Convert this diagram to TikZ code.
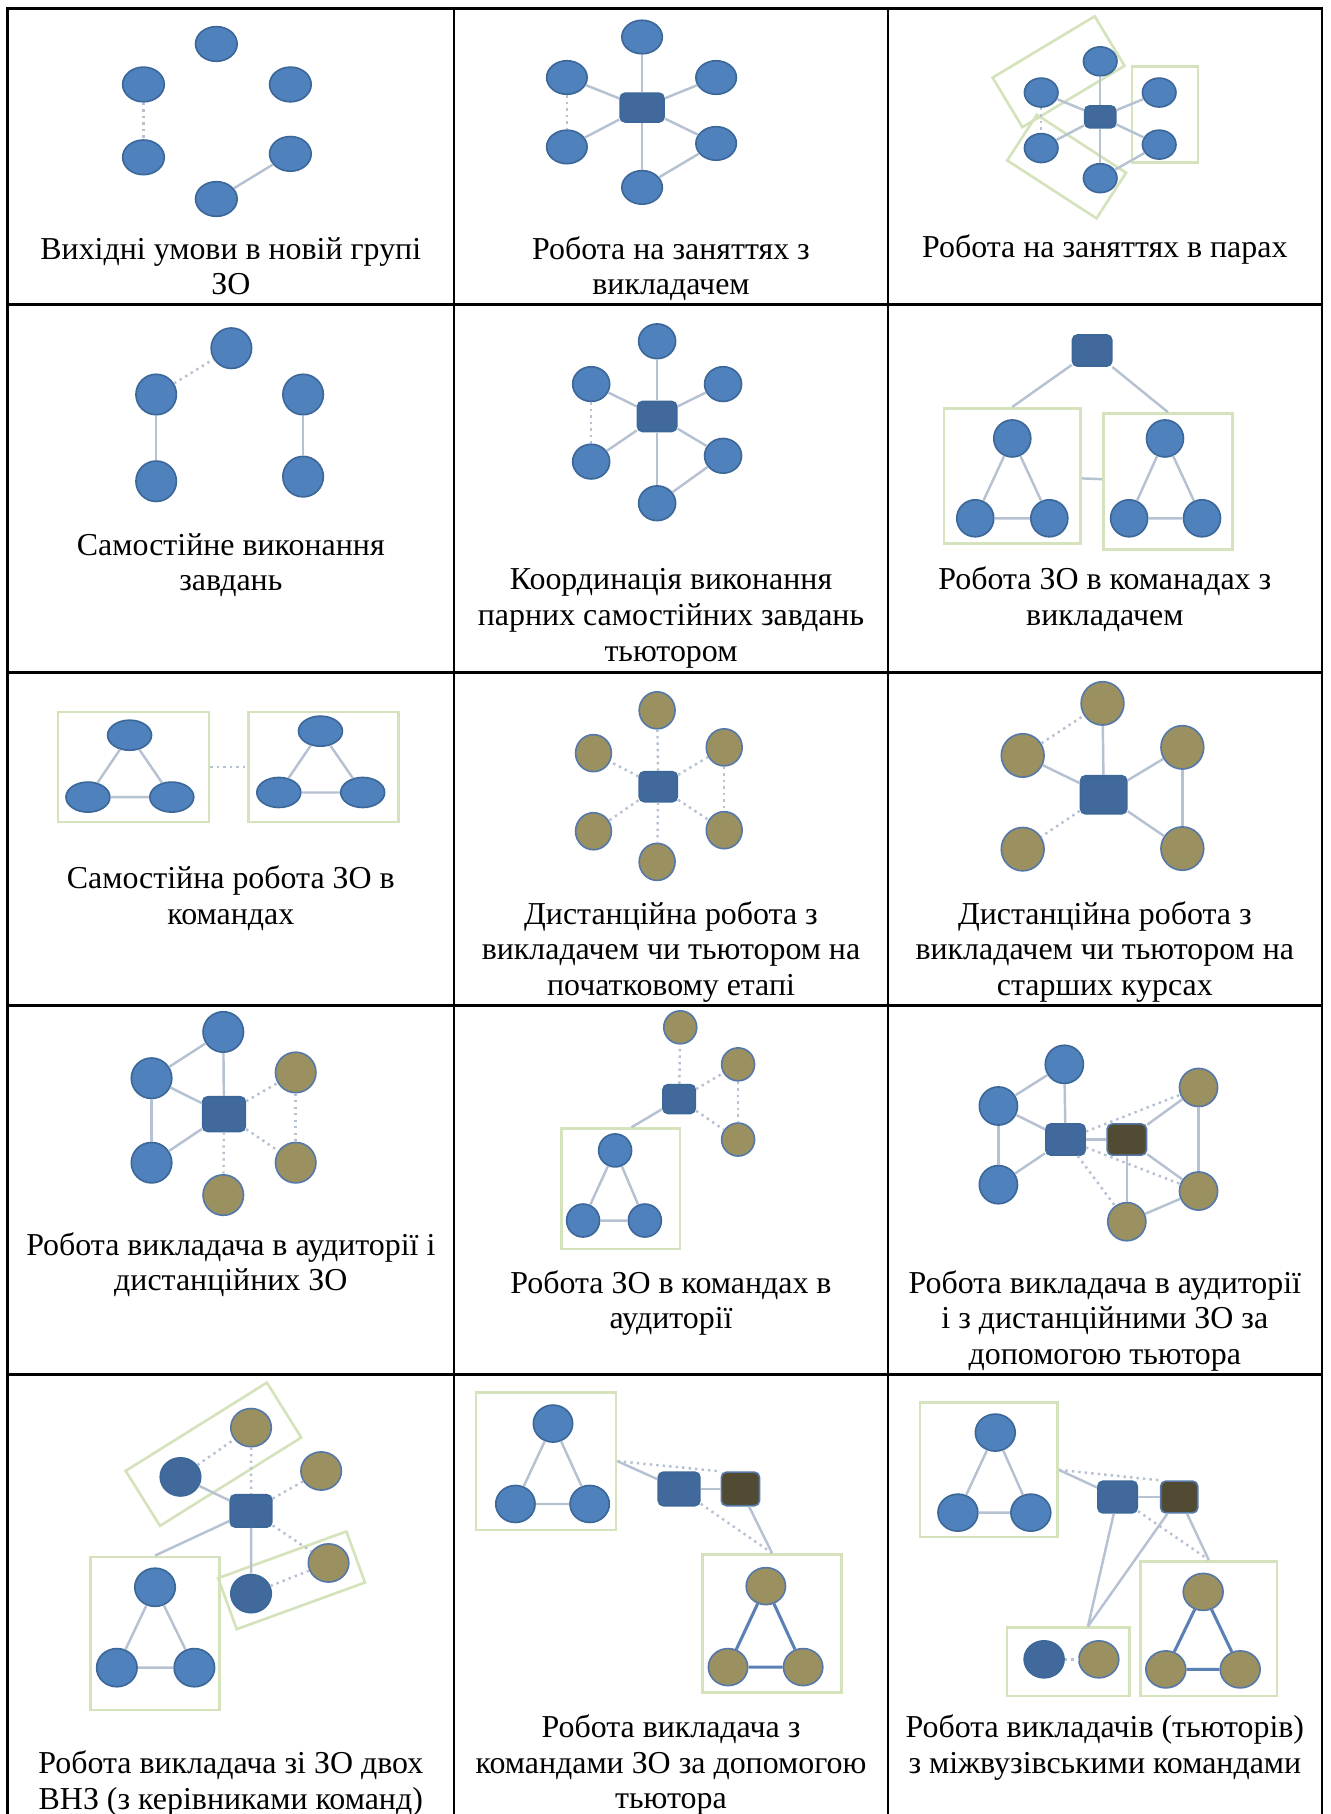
\documentclass[tikz,border=0pt]{standalone}
\usepackage{fontspec}
\setmainfont{Liberation Serif}
\usepackage{tikz}
\usetikzlibrary{shapes.geometric}

\definecolor{stublue}{HTML}{4F81BD}
\definecolor{stuline}{HTML}{3C6799}
\definecolor{leadblue}{HTML}{41699B}
\definecolor{remolive}{HTML}{9A9060}
\definecolor{remline}{HTML}{5678A8}
\definecolor{tutbrown}{HTML}{504B32}
\definecolor{teamgreen}{HTML}{D5E3BC}
\definecolor{lnkgrey}{HTML}{B6C1D2}
\definecolor{tlnkblue}{HTML}{5A80B5}
\newcommand{\capfont}{\fontsize{15.7pt}{17.5pt}\selectfont}

\tikzset{
  sz/.style={minimum width=0.7cm,minimum height=0.66cm},
  rz/.style={minimum width=0.72cm,minimum height=0.56cm},
  circ/.style={ellipse,inner sep=0pt,line width=0.8pt,sz},
  stu/.style={circ,fill=stublue,draw=stuline},
  rem/.style={circ,fill=remolive,draw=remline},
  lead/.style={circ,fill=leadblue,draw=stuline},
  rbox/.style={rectangle,rounded corners=2.5pt,inner sep=0pt,line width=0.8pt,rz},
  tchr/.style={rbox,fill=leadblue,draw=stuline},
  tutr/.style={rbox,fill=tutbrown,draw=remline},
  team/.style={rectangle,draw=teamgreen,line width=1.3pt,inner sep=0pt},
  lnk/.style={draw=lnkgrey,line width=1.2pt},
  weak/.style={lnk,dotted},
  tlnk/.style={draw=tlnkblue,line width=1.5pt},
  capt/.style={align=center,anchor=base,font=\capfont},
  tabline/.style={line width=1.4pt,line cap=rect}
}

\begin{document}
\begin{tikzpicture}[x=0.02cm,y=-0.02cm]
\fill[white] (0,0) rectangle (1150,1568);
\useasboundingbox (0,0) rectangle (1150,1568);

% table
\foreach \y in {7,263,581,869,1188}
  \draw[tabline] (6.6,\y) -- (1142.7,\y);
\foreach \x in {6.6,392.4,767.5,1142.7}
  \draw[tabline] (\x,7) -- (\x,1590);

% row 1
\begin{scope}[sz/.style={minimum width=0.72cm,minimum height=0.6cm}]
\node[stu] (a1) at (187,38) {};
\node[stu] (a2) at (124,73) {};
\node[stu] (a3) at (251,73) {};
\node[stu] (a4) at (124,136) {};
\node[stu] (a5) at (251,133) {};
\node[stu] (a6) at (187,172) {};
\draw[weak] (a2) -- (a4);
\draw[lnk] (a6) -- (a5);
\end{scope}
\node[capt] (la) at (199.5,254.7) {Вихідні умови в новій групі\\ЗО};

\begin{scope}[sz/.style={minimum width=0.7cm,minimum height=0.58cm},
  rz/.style={minimum width=0.76cm,minimum height=0.5cm}]
\node[tchr] (b0) at (555,93) {};
\node[stu] (b1) at (555,32) {};
\node[stu] (b2) at (490,67) {};
\node[stu] (b3) at (619,67) {};
\node[stu] (b4) at (490,127) {};
\node[stu] (b5) at (619,124) {};
\node[stu] (b6) at (555,162) {};
\foreach \n in {1,...,6}
  \draw[lnk] (b0) -- (b\n);
\draw[lnk] (b6) -- (b5);
\draw[weak] (b2) -- (b4);
\end{scope}
\node[capt] (lb) at (580,254.7) {Робота на заняттях з\\викладачем};

\begin{scope}[sz/.style={minimum width=0.58cm,minimum height=0.5cm},
  rz/.style={minimum width=0.54cm,minimum height=0.38cm}]
\node[team,rotate=31,minimum width=2.06cm,minimum height=1cm] (cb1) at (915,62) {};
\node[team,rotate=-33,minimum width=1.84cm,minimum height=0.94cm] (cb2) at (922,144) {};
\node[team,minimum width=1.14cm,minimum height=1.66cm] (cb3) at (1007,99) {};
\node[tchr] (c0) at (951,101) {};
\node[stu] (c1) at (951,53) {};
\node[stu] (c2) at (900,80) {};
\node[stu] (c3) at (1002,80) {};
\node[stu] (c4) at (900,128) {};
\node[stu] (c5) at (1002,125) {};
\node[stu] (c6) at (951,154) {};
\foreach \n in {1,...,6}
  \draw[lnk] (c0) -- (c\n);
\draw[lnk] (c6) -- (c5);
\draw[weak] (c2) -- (c4);
\end{scope}
\node[capt] (lc) at (955,223) {Робота на заняттях в парах};

% row 2
\begin{scope}[sz/.style={minimum width=0.7cm,minimum height=0.7cm}]
\node[stu] (d1) at (200,301) {};
\node[stu] (d2) at (135,341) {};
\node[stu] (d3) at (262,341) {};
\node[stu] (d4) at (135,416) {};
\node[stu] (d5) at (262,412) {};
\draw[weak] (d2) -- (d1);
\draw[lnk] (d2) -- (d4);
\draw[lnk] (d3) -- (d5);
\end{scope}
\node[capt] (ld) at (199.5,510.7) {Самостійне виконання\\завдань};

\begin{scope}[sz/.style={minimum width=0.64cm,minimum height=0.6cm},
  rz/.style={minimum width=0.68cm,minimum height=0.52cm}]
\node[tchr] (e0) at (568,360) {};
\node[stu] (e1) at (568,295) {};
\node[stu] (e2) at (511,332) {};
\node[stu] (e3) at (625,332) {};
\node[stu] (e4) at (511,399) {};
\node[stu] (e5) at (625,394) {};
\node[stu] (e6) at (568,435) {};
\foreach \n in {1,...,6}
  \draw[lnk] (e0) -- (e\n);
\draw[lnk] (e6) -- (e5);
\draw[weak] (e2) -- (e4);
\end{scope}
\node[capt] (le) at (580,571.4) {Координація виконання\\парних самостійних завдань\\тьютором};

\begin{scope}[sz/.style={minimum width=0.64cm,minimum height=0.64cm},
  rz/.style={minimum width=0.68cm,minimum height=0.54cm}]
\node[team,minimum width=2.36cm,minimum height=2.34cm] (fl) at (875,411.4) {};
\node[team,minimum width=2.23cm,minimum height=2.35cm] (fr) at (1009.6,416.2) {};
\node[tchr] (f0) at (944,303) {};
\node[stu] (f1) at (875,379) {};
\node[stu] (f2) at (843,448) {};
\node[stu] (f3) at (907,448) {};
\node[stu] (f4) at (1007,379) {};
\node[stu] (f5) at (976,448) {};
\node[stu] (f6) at (1039,448) {};
\draw[lnk] (f0) -- (fl.north);
\draw[lnk] (f0) -- (fr.north);
\draw[lnk] (f1) -- (f2) -- (f3) -- (f1);
\draw[lnk] (f4) -- (f5) -- (f6) -- (f4);
\draw[lnk] (fl) -- (fr);
\end{scope}
\node[capt] (lf) at (955,540.7) {Робота ЗО в команадах з\\викладачем};

% row 3
\begin{scope}[sz/.style={minimum width=0.76cm,minimum height=0.52cm}]
\node[team,minimum width=2.61cm,minimum height=1.9cm] (gl) at (115.5,663) {};
\node[team,minimum width=2.6cm,minimum height=1.9cm] (gr) at (279.6,663) {};
\node[stu] (g1) at (112,635.5) {};
\node[stu] (g2) at (76,689) {};
\node[stu] (g3) at (148.5,689) {};
\node[stu] (g4) at (277,632) {};
\node[stu] (g5) at (241,685) {};
\node[stu] (g6) at (313.5,685) {};
\draw[lnk] (g1) -- (g2) -- (g3) -- (g1);
\draw[lnk] (g4) -- (g5) -- (g6) -- (g4);
\draw[weak] (gl) -- (gr);
\end{scope}
\node[capt] (lg) at (199.5,798.7) {Самостійна робота ЗО в\\командах};

\begin{scope}[sz/.style={minimum width=0.62cm,minimum height=0.64cm},
  rz/.style={minimum width=0.66cm,minimum height=0.52cm}]
\node[tchr] (h0) at (569,680) {};
\node[rem] (h1) at (568,614) {};
\node[rem] (h2) at (513,651) {};
\node[rem] (h3) at (626,646) {};
\node[rem] (h4) at (513,718.5) {};
\node[rem] (h5) at (626,717.6) {};
\node[rem] (h6) at (568,745) {};
\foreach \n in {1,...,6}
  \draw[weak] (h0) -- (h\n);
\draw[weak] (h3) -- (h5);
\end{scope}
\node[capt] (lh) at (580,860.4) {Дистанційна робота з\\викладачем чи тьютором на\\початковому етапі};

\begin{scope}[sz/.style={minimum width=0.74cm,minimum height=0.75cm},
  rz/.style={minimum width=0.8cm,minimum height=0.66cm}]
\node[tchr] (i0) at (954,687) {};
\node[rem] (i1) at (953,608) {};
\node[rem] (i2) at (884,653) {};
\node[rem] (i3) at (1022,646) {};
\node[rem] (i4) at (884,734) {};
\node[rem] (i5) at (1022,733.5) {};
\foreach \n in {1,2,3,5}
  \draw[lnk] (i0) -- (i\n);
\draw[lnk] (i3) -- (i5);
\draw[weak] (i2) -- (i1);
\draw[weak] (i0) -- (i4);
\end{scope}
\node[capt] (li) at (955,860.4) {Дистанційна робота з\\викладачем чи тьютором на\\старших курсах};

% row 4
\begin{scope}[sz/.style={minimum width=0.7cm,minimum height=0.7cm},
  rz/.style={minimum width=0.74cm,minimum height=0.6cm}]
\node[tchr] (j0) at (193.6,963) {};
\node[stu] (j1) at (193,892) {};
\node[stu] (j2) at (131,932) {};
\node[stu] (j3) at (131,1005) {};
\node[rem] (j4) at (255.6,927) {};
\node[rem] (j5) at (255.6,1005) {};
\node[rem] (j6) at (193,1033) {};
\draw[lnk] (j2) -- (j1);
\draw[lnk] (j2) -- (j3);
\foreach \n in {1,2,3}
  \draw[lnk] (j0) -- (j\n);
\foreach \n in {4,5,6}
  \draw[weak] (j0) -- (j\n);
\draw[weak] (j4) -- (j5);
\end{scope}
\node[capt] (lj) at (199.5,1115.7) {Робота викладача в аудиторії і\\дистанційних ЗО};

\begin{scope}[sz/.style={minimum width=0.57cm,minimum height=0.57cm},
  rz/.style={minimum width=0.56cm,minimum height=0.5cm}]
\node[team,minimum width=2.05cm,minimum height=2.08cm] (kb) at (536.5,1027.5) {};
\node[tchr] (k0) at (587,950) {};
\node[rem] (k1) at (588,888) {};
\node[rem] (k2) at (638,920) {};
\node[rem] (k3) at (638,985) {};
\node[stu] (k4) at (531.7,994.4) {};
\node[stu] (k5) at (504,1055) {};
\node[stu] (k6) at (557.4,1055) {};
\foreach \n in {1,2,3}
  \draw[weak] (k0) -- (k\n);
\draw[weak] (k2) -- (k3);
\draw[lnk] (k0) -- (kb.80);
\draw[lnk] (k4) -- (k5) -- (k6) -- (k4);
\end{scope}
\node[capt] (lk) at (580,1148.7) {Робота ЗО в командах в\\аудиторії};

\begin{scope}[sz/.style={minimum width=0.66cm,minimum height=0.66cm},
  rz/.style={minimum width=0.68cm,minimum height=0.54cm}]
\node[tchr] (l0) at (921,985) {};
\node[tutr] (lt) at (974,985) {};
\node[stu] (l1) at (920,920) {};
\node[stu] (l2) at (863,956) {};
\node[stu] (l3) at (863,1024) {};
\node[rem] (l4) at (1036,940) {};
\node[rem] (l5) at (1036,1029.5) {};
\node[rem] (l6) at (974,1056) {};
\draw[lnk] (l2) -- (l1);
\draw[lnk] (l2) -- (l3);
\foreach \n in {1,2,3}
  \draw[lnk] (l0) -- (l\n);
\draw[lnk] (l0) -- (lt);
\foreach \n in {4,5,6}
  \draw[lnk] (lt) -- (l\n);
\draw[lnk] (l4) -- (l5);
\draw[lnk] (l6) -- (l5);
\foreach \n in {4,5,6}
  \draw[weak] (l0) -- (l\n);
\end{scope}
\node[capt] (ll) at (955,1179.4) {Робота викладача в аудиторії\\і з дистанційними ЗО за\\допомогою тьютора};

% row 5
\begin{scope}[sz/.style={minimum width=0.7cm,minimum height=0.66cm},
  rz/.style={minimum width=0.72cm,minimum height=0.56cm}]
\node[team,rotate=32,minimum width=2.88cm,minimum height=1.12cm] (ma) at (184.5,1257) {};
\node[team,rotate=20,minimum width=2.36cm,minimum height=0.94cm] (mb) at (252,1366) {};
\node[team,minimum width=2.24cm,minimum height=2.65cm] (mc) at (134,1412) {};
\node[tchr] (m0) at (217,1306) {};
\node[lead] (m1) at (156,1276.6) {};
\node[rem] (m2) at (217,1234) {};
\node[rem] (m3) at (277.6,1271.5) {};
\node[lead] (m4) at (217,1377.5) {};
\node[rem] (m5) at (284,1351) {};
\node[stu] (m6) at (134,1372) {};
\node[stu] (m7) at (101,1441.5) {};
\node[stu] (m8) at (168,1441.5) {};
\draw[weak] (m1) -- (m2) -- (m0);
\draw[weak] (m0) -- (m3);
\draw[weak] (m0) -- (m5);
\draw[weak] (m4) -- (m5);
\draw[lnk] (m1) -- (m0) -- (m4);
\draw[lnk] (m0) -- (mc.north);
\draw[lnk] (m6) -- (m7) -- (m8) -- (m6);
\end{scope}
\node[capt] (lm) at (199.5,1563.7) {Робота викладача зі ЗО двох\\ВНЗ (з керівниками команд)};

\begin{scope}[sz/.style={minimum width=0.68cm,minimum height=0.64cm},
  rz/.style={minimum width=0.72cm,minimum height=0.58cm}]
\node[team,minimum width=2.42cm,minimum height=2.38cm] (nb1) at (472,1263) {};
\node[team,minimum width=2.4cm,minimum height=2.39cm] (nb2) at (667.3,1403.3) {};
\node[tchr] (n0) at (587,1287) {};
\node[tutr,minimum width=0.66cm] (nt) at (640,1287) {};
\node[stu] (n1) at (478,1230.5) {};
\node[stu] (n2) at (445.5,1300) {};
\node[stu] (n3) at (509.7,1300) {};
\node[rem] (n4) at (662,1371) {};
\node[rem] (n5) at (629.3,1441) {};
\node[rem] (n6) at (694.2,1441) {};
\draw[lnk] (nb1.east) -- (n0);
\draw[weak] (nb1.east) -- (nt.north west);
\draw[lnk] (n0) -- (nt);
\draw[lnk] (nt) -- (nb2.north);
\draw[weak] (n0) -- (nb2.north);
\draw[lnk] (n1) -- (n2) -- (n3) -- (n1);
\draw[tlnk] (n4) -- (n5) -- (n6) -- (n4);
\end{scope}
\node[capt] (ln) at (580,1563.4) {Робота викладача з\\командами ЗО за допомогою\\тьютора};

\begin{scope}[sz/.style={minimum width=0.69cm,minimum height=0.64cm},
  rz/.style={minimum width=0.68cm,minimum height=0.55cm}]
\node[team,minimum width=2.38cm,minimum height=2.32cm] (ob1) at (854.6,1270.5) {};
\node[team,minimum width=2.12cm,minimum height=1.18cm] (ob2) at (923.4,1436.5) {};
\node[team,minimum width=2.36cm,minimum height=2.33cm] (ob3) at (1044.8,1407.7) {};
\node[tchr] (o0) at (966,1294) {};
\node[tutr,minimum width=0.64cm] (ot) at (1019.3,1294) {};
\node[stu] (o1) at (860.3,1238.3) {};
\node[stu] (o2) at (828,1307.5) {};
\node[stu] (o3) at (891,1307.5) {};
\node[lead] (o4) at (902.5,1434.3) {};
\node[rem] (o5) at (949.8,1434.3) {};
\node[rem] (o6) at (1040,1376) {};
\node[rem] (o7) at (1007.7,1443) {};
\node[rem] (o8) at (1072,1443) {};
\draw[lnk] (ob1.east) -- (o0);
\draw[weak] (ob1.east) -- (ot.north west);
\draw[lnk] (o0) -- (ot);
\draw[lnk] (o0) -- (ob2.61);
\draw[lnk] (ot) -- (ob2.61);
\draw[lnk] (ot) -- (ob3.north);
\draw[weak] (o0) -- (ob3.north);
\draw[weak] (o4) -- (o5);
\draw[lnk] (o1) -- (o2) -- (o3) -- (o1);
\draw[tlnk] (o6) -- (o7) -- (o8) -- (o6);
\end{scope}
\node[capt] (lo) at (955,1532.7) {Робота викладачів (тьюторів)\\з міжвузівськими командами};
\end{tikzpicture}
\end{document}
